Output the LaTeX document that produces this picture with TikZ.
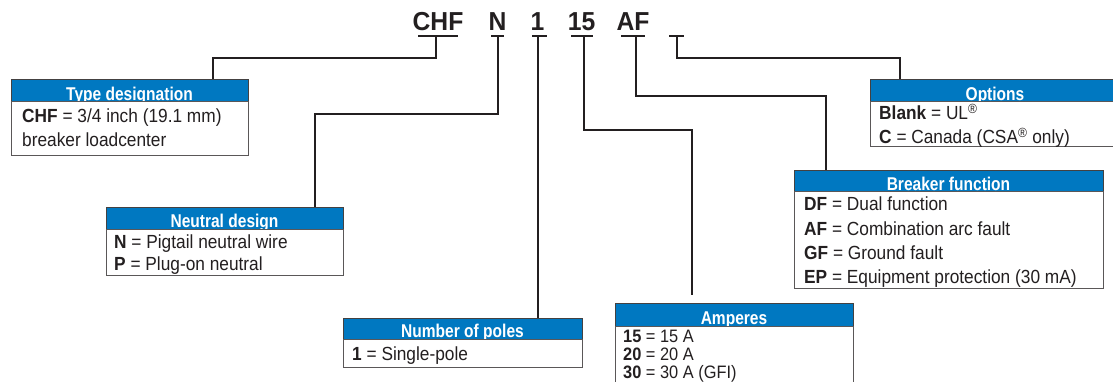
\documentclass[tikz,border=0pt]{standalone}
\usepackage{fontspec}
\setmainfont{Liberation Sans}[FakeStretch=0.91]
\newfontfamily\headfont{Liberation Sans}[FakeStretch=0.84]
\newfontfamily\codefont{Liberation Sans}[FakeStretch=0.95]
\definecolor{headblue}{RGB}{0,120,193}
\definecolor{ink}{RGB}{35,31,32}
\tikzset{
  conn/.style={draw=ink, line width=2pt, line cap=butt, line join=miter},
  thinconn/.style={draw=ink, line width=1.5pt, line join=miter},
  tick/.style={draw=ink, line width=2.4pt},
  thintick/.style={draw=ink, line width=1.3pt},
  headbox/.style={rectangle, fill=headblue, draw=ink!85, line width=0.8pt, inner sep=0pt, outer sep=0pt, anchor=north west},
  headtxt/.style={text=white, font=\headfont\bfseries\fontsize{18.5}{20}\selectfont, inner sep=0pt, anchor=base},
  bodybox/.style={fill=white, draw=ink!75, line width=1pt},
  rowtxt/.style={text=ink, font=\fontsize{19}{21}\selectfont, inner sep=0pt, anchor=base west},
  amptxt/.style={rowtxt, font=\fontsize{18}{20}\selectfont},
  codetxt/.style={text=ink, font=\codefont\bfseries\fontsize{26}{28}\selectfont, inner sep=0pt, anchor=base},
}
\begin{document}
\begin{tikzpicture}[x=1pt, y=-1pt]
\useasboundingbox (0,0) rectangle (1113,382);

% code letters
\node[codetxt] (cCHF) at (438,31) {CHF};
\node[codetxt] (cN)   at (497.5,31) {N};
\node[codetxt] (cOne) at (537.5,31) {1};
\node[codetxt] (cAmp) at (581.5,31) {15};
\node[codetxt] (cAF)  at (633,31) {AF};

% underline ticks
\coordinate (tCHF) at (436,36);
\coordinate (tN) at (498,36);
\coordinate (tOne) at (538,36);
\coordinate (tAmp) at (584,36);
\coordinate (tAF) at (636,36);
\coordinate (tOpt) at (677,36);
\draw[tick] (418,36) -- (458,36);
\draw[tick] (491,36) -- (504,36);
\draw[thintick] (532,36) -- (547,36);
\draw[tick] (571,36) -- (593,36);
\draw[tick] (621,36) -- (645,36);
\draw[thintick] (669,36) -- (684,36);

% ---- Type designation
\node[headbox, minimum width=237pt, minimum height=23pt] (hType) at (11,79) {};
\node[headtxt] at (129.5,100.8) {Type designation};
\draw[bodybox] (11,102) rectangle (248,156);
\node[rowtxt] (rType1) at (22,123) {\textbf{CHF} = 3/4 inch (19.1 mm)};
\node[rowtxt] (rType2) at (22,147) {breaker loadcenter};

% ---- Neutral design
\node[headbox, minimum width=237pt, minimum height=22pt] (hNeu) at (106,207) {};
\node[headtxt] at (224.5,227.8) {Neutral design};
\draw[bodybox] (106,229) rectangle (343,275);
\node[rowtxt] (rNeu1) at (114,248) {\textbf{N} = Pigtail neutral wire};
\node[rowtxt] (rNeu2) at (114,270) {\textbf{P} = Plug-on neutral};

% ---- Number of poles
\node[headbox, minimum width=239pt, minimum height=21pt] (hPol) at (343,318) {};
\node[headtxt] at (462.5,337.8) {Number of poles};
\draw[bodybox] (343,339) rectangle (582,367);
\node[rowtxt] (rPol1) at (352,360) {\textbf{1} = Single-pole};

% ---- Amperes
\node[headbox, minimum width=238pt, minimum height=23pt] (hAmp) at (615,303) {};
\node[headtxt] at (734,324.8) {Amperes};
\draw[bodybox] (615,326) rectangle (853,392);
\node[amptxt] (rAmp1) at (623,342) {\textbf{15} = 15 A};
\node[amptxt] (rAmp2) at (623,360) {\textbf{20} = 20 A};
\node[amptxt] (rAmp3) at (623,378) {\textbf{30} = 30 A (GFI)};

% ---- Breaker function
\node[headbox, minimum width=309pt, minimum height=22pt] (hBrk) at (794,170) {};
\node[headtxt] at (948.5,190.8) {Breaker function};
\draw[bodybox] (794,192) rectangle (1103,288);
\node[rowtxt] (rBrk1) at (804,211) {\textbf{DF} = Dual function};
\node[rowtxt] (rBrk2) at (804,235) {\textbf{AF} = Combination arc fault};
\node[rowtxt] (rBrk3) at (804,259) {\textbf{GF} = Ground fault};
\node[rowtxt] (rBrk4) at (804,283) {\textbf{EP} = Equipment protection (30 mA)};

% ---- Options
\node[headbox, minimum width=250pt, minimum height=23pt] (hOpt) at (870,79) {};
\node[headtxt] at (995,100.8) {Options};
\draw[bodybox] (870,102) rectangle (1120,147);
\node[rowtxt] (rOpt1) at (879,120) {\textbf{Blank} = UL\textsuperscript{®}};
\node[rowtxt] (rOpt2) at (879,144) {\textbf{C} = Canada (CSA\textsuperscript{®} only)};

% ---- connectors
\coordinate (jType) at (213,58);  \coordinate (pType) at (213,79);
\coordinate (jNeu) at (315,114);  \coordinate (pNeu) at (315,207);
\coordinate (pPol) at (538,318);
\coordinate (jAmp) at (692,130);  \coordinate (ampEnd) at (692,295);
\coordinate (jBrk) at (826,96);   \coordinate (pBrk) at (826,170);
\coordinate (jOpt) at (900,58);   \coordinate (pOpt) at (900,79);
\draw[conn] (tCHF) |- (jType) -- (pType);
\draw[conn] (tN) |- (jNeu) -- (pNeu);
\draw[conn] (tOne) -- (pPol);
\draw[conn] (tAmp) |- (jAmp) -- (ampEnd);
\draw[conn] (tAF) |- (jBrk) -- (pBrk);
\draw[thinconn] (tOpt) |- (jOpt) -- (pOpt);
\end{tikzpicture}
\end{document}
